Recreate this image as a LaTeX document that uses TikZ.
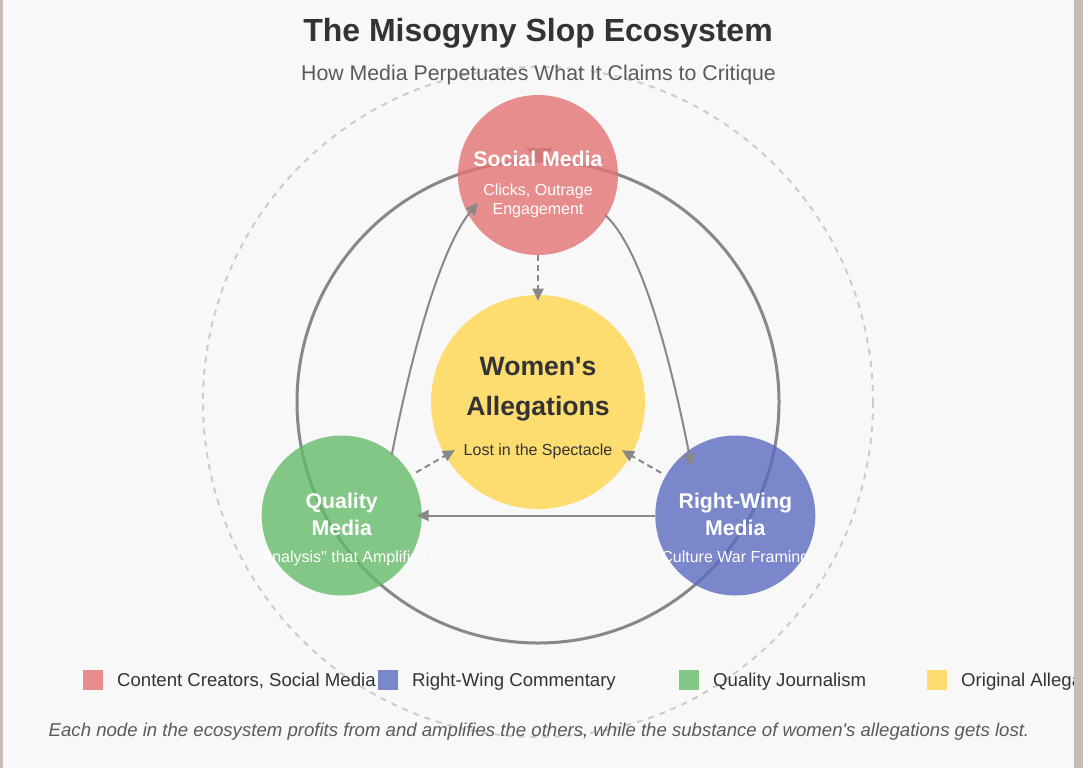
\documentclass[tikz,border=0pt]{standalone}
\usepackage{fontspec}
\setmainfont{Liberation Sans}
\usetikzlibrary{arrows.meta,calc}
\definecolor{bg}{HTML}{F8F8F8}
\definecolor{framec}{HTML}{C6BEB6}
\definecolor{pinkc}{HTML}{E57373}
\definecolor{bluec}{HTML}{5C6BC0}
\definecolor{greenc}{HTML}{66BB6A}
\definecolor{yellowc}{HTML}{FFD54F}
\definecolor{linec}{HTML}{888888}
\definecolor{ringc}{HTML}{CCCCCC}
\definecolor{darktext}{HTML}{333333}
\definecolor{subtext}{HTML}{5A5A5A}
\begin{document}
\begin{tikzpicture}[x=1pt,y=-1pt,
  hub/.style={circle, inner sep=0pt, outer sep=0pt, minimum size=160pt, fill opacity=0.8, draw=none},
  ttl/.style={anchor=base, inner sep=0pt, text=white, font=\fontsize{21.3}{24}\selectfont\bfseries},
  sub/.style={anchor=base, inner sep=0pt, text=white, font=\fontsize{16}{19}\selectfont},
  flow/.style={draw=linec, line width=2pt, -{Triangle[length=12pt,width=11pt]}},
  flowdash/.style={flow, dash pattern=on 6pt off 4pt},
  legbox/.style={minimum width=20pt, minimum height=20pt, inner sep=0pt, outer sep=0pt, anchor=north west, fill opacity=0.8},
  legtxt/.style={anchor=base west, inner sep=0pt, text=darktext, font=\fontsize{18.6}{22}\selectfont},
]
\useasboundingbox (0,0) rectangle (1083,768);
\fill[bg] (0,0) rectangle (1083,768);

% rings
\coordinate (ctr) at (538,402);
\draw[ringc, line width=2pt, dash pattern=on 6pt off 6pt] (ctr) circle[radius=335];
\draw[linec, line width=3pt] (ctr) circle[radius=241];
\fill[linec] (526,148) -- (553,148) -- (539.5,163) -- cycle;

% hubs
\node[hub, fill=pinkc] (social) at (538,175) {};
\node[hub, fill=yellowc, minimum size=214pt] (women) at (538,402) {};
\node[hub, fill=greenc] (quality) at (341.7,515.5) {};
\node[hub, fill=bluec] (right) at (735.3,515.5) {};

% hub texts
\node[ttl] (socialT) at (538,166.7) {Social Media};
\node[sub] (socialS1) at (538,195) {Clicks, Outrage};
\node[sub] (socialS2) at (538,214.3) {Engagement};

\node[ttl, text=darktext, font=\fontsize{26.6}{30}\selectfont\bfseries] (womenT1) at (538,375) {Women\textquotesingle s};
\node[ttl, text=darktext, font=\fontsize{26.6}{30}\selectfont\bfseries] (womenT2) at (538,415.5) {Allegations};
\node[sub, text=darktext] (womenS) at (538,455.7) {Lost in the Spectacle};

\node[ttl] (qualityT1) at (341.7,508.5) {Quality};
\node[ttl] (qualityT2) at (341.7,535.7) {Media};
\node[sub] (qualityS) at (341.7,562.7) {\textquotedbl Analysis\textquotedbl{} that Amplifies};

\node[ttl] (rightT1) at (735.3,508.5) {Right-Wing};
\node[ttl] (rightT2) at (735.3,535.7) {Media};
\node[sub] (rightS) at (735.3,562.7) {Culture War Framing};

% connectors
\draw[flowdash] (social.south) -- ($(women.center)+(0,-101.3)$);
\draw[flowdash] ($(quality.center)!86pt!(women.center)$) -- ($(women.center)!96pt!(quality.center)$);
\draw[flowdash] ($(right.center)!85.5pt!(women.center)$) -- ($(women.center)!96.8pt!(right.center)$);
\draw[flow] (right.west) -- ($(quality.center)+(75,0)$);
\draw[flow] ($(quality.center)+(50,-60.5)$) .. controls (417.2,325) and (446,240.9) .. ($(social.center)+(-60,27.7)$);
\draw[flow] ($(social.center)+(67,40)$) .. controls (635,241.7) and (663.9,325.6) .. ($(right.center)+(-43.6,-48.8)$);

% titles
\node[anchor=base, inner sep=0pt, text=darktext, font=\fontsize{32}{36}\selectfont\bfseries] (title) at (538,41.7) {The Misogyny Slop Ecosystem};
\node[anchor=base, inner sep=0pt, text=subtext, font=\fontsize{21.3}{24}\selectfont] (subtitle) at (538.5,81) {How Media Perpetuates What It Claims to Critique};

% legend
\node[legbox, fill=pinkc] (leg1) at (83,670) {};
\node[legtxt] (leg1t) at (117,686) {Content Creators, Social Media};
\node[legbox, fill=bluec] (leg2) at (378,670) {};
\node[legtxt] (leg2t) at (412,686) {Right-Wing Commentary};
\node[legbox, fill=greenc] (leg3) at (679,670) {};
\node[legtxt] (leg3t) at (713,686) {Quality Journalism};
\node[legbox, fill=yellowc] (leg4) at (927,670) {};
\node[legtxt] (leg4t) at (961,686) {Original Allegations};

% footer
\node[anchor=base, inner sep=0pt, text=subtext, font=\fontsize{18.6}{22}\selectfont\itshape] (footer) at (539,736.7) {Each node in the ecosystem profits from and amplifies the others, while the substance of women\textquotesingle s allegations gets lost.};

% frame
\fill[framec] (0,0) rectangle (3,768);
\fill[framec] (1074,0) rectangle (1083,768);
\end{tikzpicture}
\end{document}
